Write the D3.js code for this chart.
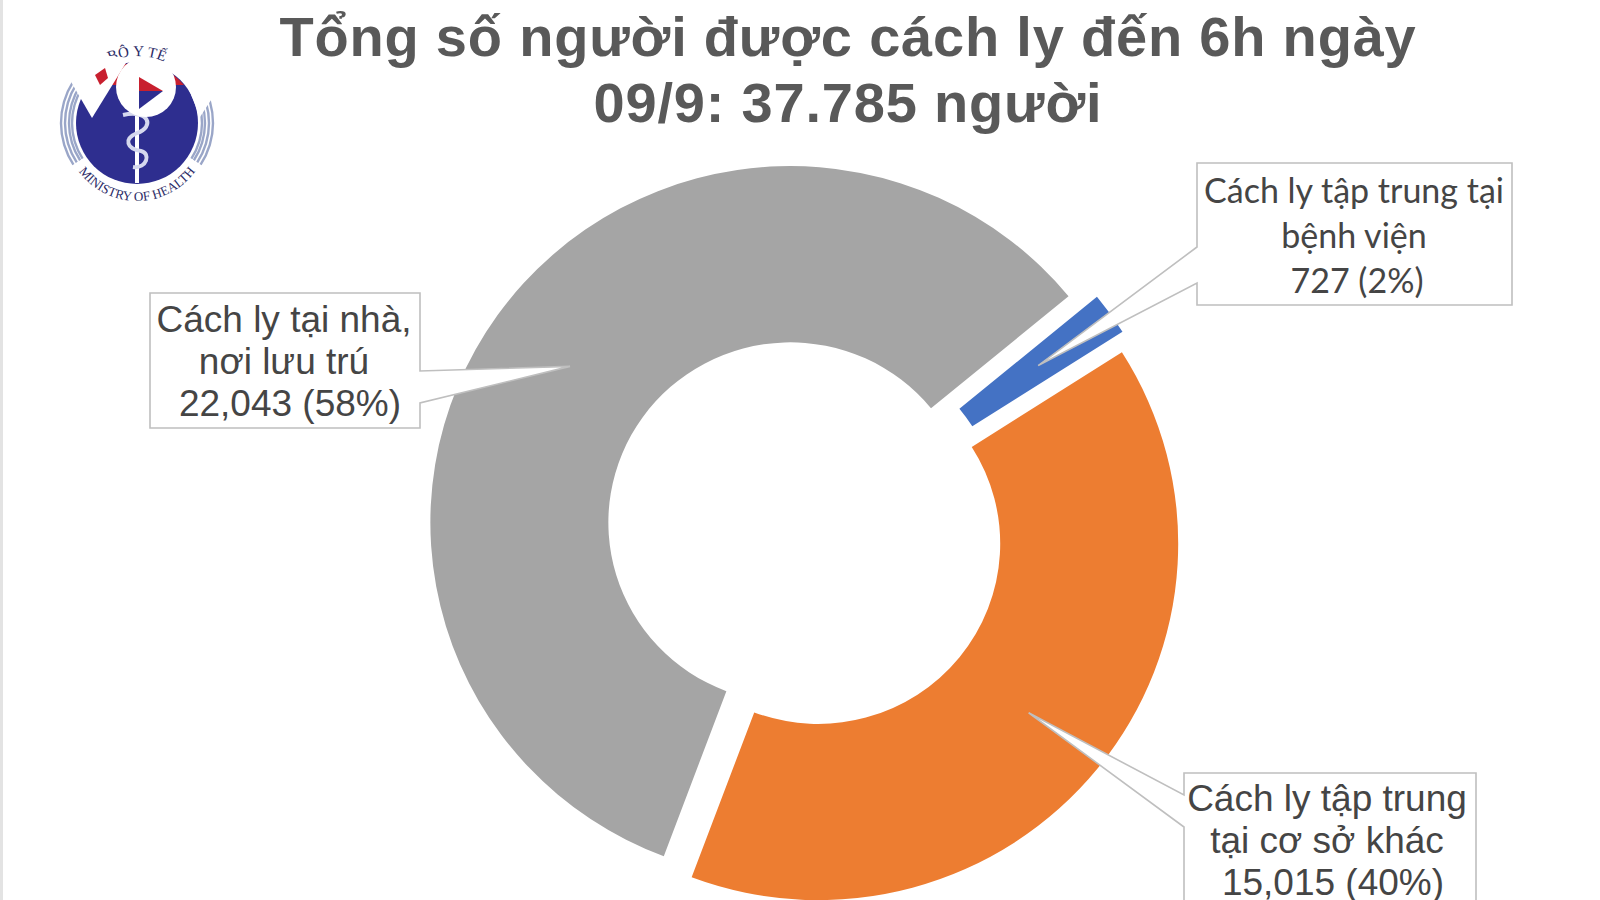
<!DOCTYPE html>
<html lang="vi">
<head>
  <meta charset="UTF-8" />
  <title>Tổng số người được cách ly</title>
  <style>
    html, body { margin: 0; padding: 0; background: #fff; overflow: hidden; }
    svg { display: block; }
    .title { font-family: "Liberation Sans", sans-serif; font-weight: bold; font-size: 56px; fill: #595959; text-anchor: middle; letter-spacing: 0.8px; }
    .label { fill: #454545; text-anchor: middle; }
  </style>
</head>
<body>
  <div id="chart"></div>
  <script src="https://d3js.org/d3.v7.min.js"></script>
  <script>
    const titleLines = ["Tổng số người được cách ly đến 6h ngày", "09/9: 37.785 người"];
    const categories = ["Cách ly tập trung tại bệnh viện", "Cách ly tập trung tại cơ sở khác", "Cách ly tại nhà, nơi lưu trú"];
    const values = [727, 15015, 22043];
    const colors = ["#4472C4", "#ED7D31", "#A5A5A5"];
    const labelLines = [
      ["Cách ly tập trung tại", "bệnh viện", "727 (2%)"],
      ["Cách ly tập trung", "tại cơ sở khác", "15,015 (40%)"],
      ["Cách ly tại nhà,", "nơi lưu trú", "22,043 (58%)"]
    ];

    const width = 1600, height = 900;
    const cx = 805, cy = 533, outer = 360, inner = 182, squash = 0.99;
    const explode = [17, 17, 18];
    const startDeg = 50.6;

    const svg = d3.select("#chart").append("svg")
      .attr("width", width)
      .attr("height", height);

    svg.append("rect").attr("width", width).attr("height", height).attr("fill", "#fff");
    svg.append("rect").attr("width", 3).attr("height", height).attr("fill", "#e3e3e3");

    svg.selectAll("text.title")
      .data(titleLines)
      .enter().append("text")
        .attr("class", "title")
        .attr("x", 848)
        .attr("y", (d, i) => 56 + i * 66)
        .text(d => d);

    const pie = d3.pie().sort(null)
      .startAngle(startDeg * Math.PI / 180)
      .endAngle((startDeg + 360) * Math.PI / 180);
    const arc = d3.arc().innerRadius(inner).outerRadius(outer);
    const slices = pie(values);

    // each slice is pushed out along its middle angle
    const sliceCenter = (s, i) => {
      const mid = (s.startAngle + s.endAngle) / 2;
      return [cx + explode[i] * Math.sin(mid), cy - explode[i] * Math.cos(mid)];
    };

    svg.selectAll("path.slice")
      .data(slices)
      .enter().append("path")
        .attr("class", "slice")
        .attr("transform", (d, i) => `translate(${sliceCenter(d, i)}) scale(1,${squash})`)
        .attr("d", arc)
        .attr("fill", (d, i) => colors[i]);

    // callout boxes, the pointer goes to the centroid of the slice
    const callouts = [
      { x: 1197, y: 163, w: 315, h: 142, side: "left", p0: 247, p1: 283, font: "Lato, 'Noto Sans', sans-serif", size: 34, lineH: 45, tx: 1354, ty: 203, dx: [0, 0, 3] },
      { x: 1184, y: 773, w: 292, h: 160, side: "left", p0: 795, p1: 827, font: "'Liberation Sans', sans-serif", size: 37, lineH: 42, tx: 1327, ty: 811, dx: [0, 0, 6] },
      { x: 150, y: 293, w: 270, h: 135, side: "right", p0: 371, p1: 403, font: "'Liberation Sans', sans-serif", size: 37, lineH: 42, tx: 284, ty: 332, dx: [0, 0, 6] }
    ];

    const calloutPath = (c, tip) => {
      const r = c.x + c.w, b = c.y + c.h;
      if (c.side === "left") {
        return `M${c.x},${c.y}L${r},${c.y}L${r},${b}L${c.x},${b}L${c.x},${c.p1}L${tip}L${c.x},${c.p0}Z`;
      }
      return `M${c.x},${c.y}L${r},${c.y}L${r},${c.p0}L${tip}L${r},${c.p1}L${r},${b}L${c.x},${b}Z`;
    };

    callouts.forEach((c, i) => {
      const s = slices[i];
      const o = sliceCenter(s, i), m = arc.centroid(s);
      svg.append("path")
        .attr("d", calloutPath(c, [o[0] + m[0], o[1] + m[1] * squash]))
        .attr("fill", "#fff")
        .attr("stroke", "#bfbfbf")
        .attr("stroke-width", 1.6);
      svg.selectAll(null)
        .data(labelLines[i])
        .enter().append("text")
          .attr("class", "label")
          .attr("x", (d, j) => c.tx + c.dx[j])
          .attr("y", (d, j) => c.ty + j * c.lineH)
          .style("font-family", c.font)
          .style("font-size", c.size + "px")
          .text(d => d);
    });

    // ministry logo with the watermark on top
    const logo = svg.append("g").attr("transform", "translate(137,123)");
    const navy = "#2E2E8F";
    logo.append("circle").attr("r", 61).attr("fill", navy);
    logo.append("path")
      .attr("d", "M-47,-38L47,-38A61,61 0 0 0 -47,-38Z")
      .attr("fill", "#C8202F");
    logo.append("path").attr("d", "M8,-38L8,-50L32,-38Z").attr("fill", "#E8A020");

    const ringArc = d3.arc();
    [76, 72, 68, 65].forEach(r => {
      [[-2.15, -1.0], [1.0, 2.15]].forEach(a => {
        logo.append("path")
          .attr("d", ringArc({ innerRadius: r - 1.2, outerRadius: r + 1.2, startAngle: a[0], endAngle: a[1] }))
          .attr("fill", "#9AA6C8");
      });
    });

    // staff and snake
    logo.append("line").attr("x1", 0).attr("x2", 0).attr("y1", -20).attr("y2", 60)
      .attr("stroke", "#fff").attr("stroke-width", 4);
    logo.append("path")
      .attr("d", "M-14,-8C12,-14 18,4 0,10C-14,16 -10,26 4,28C14,30 10,46 -4,44")
      .attr("fill", "none").attr("stroke", "#D5D8EE").attr("stroke-width", 4);

    const defs = svg.append("defs");
    defs.append("path").attr("id", "logoBottom").attr("d", "M-72,6A72,72 0 0 0 72,6");
    defs.append("path").attr("id", "logoTop").attr("d", "M-50,-45A68,68 0 0 1 50,-45");
    logo.append("text")
      .style("font-family", "'Liberation Serif', serif").style("font-size", "13px").attr("fill", "#2b2b66")
      .append("textPath").attr("href", "#logoBottom").attr("startOffset", "50%").attr("text-anchor", "middle")
      .text("MINISTRY OF HEALTH");
    logo.append("text")
      .style("font-family", "'Liberation Serif', serif").style("font-size", "15px").attr("fill", "#2b2b66")
      .append("textPath").attr("href", "#logoTop").attr("startOffset", "50%").attr("text-anchor", "middle")
      .text("BỘ Y TẾ");

    // white VOV mark laid over the logo
    logo.append("path")
      .attr("d", "M-67,-43L-45,-5L-8,-65L-36,-68L-60,-60Z")
      .attr("fill", "#fff");
    logo.append("path")
      .attr("d", "M40,-63L63,-6L76,-26L60,-63Z")
      .attr("fill", "#fff");
    logo.append("path").attr("d", "M-42,-48L-32,-55L-29,-45L-37,-38Z").attr("fill", "#C8202F");
    logo.append("circle").attr("cx", 9).attr("cy", -36).attr("r", 30).attr("fill", "#fff");
    logo.append("path").attr("d", "M2,-14L2,-32L26,-32Z").attr("fill", navy);
    logo.append("path").attr("d", "M2,-32L2,-46L26,-32Z").attr("fill", "#C8202F");
  </script>
</body>
</html>
